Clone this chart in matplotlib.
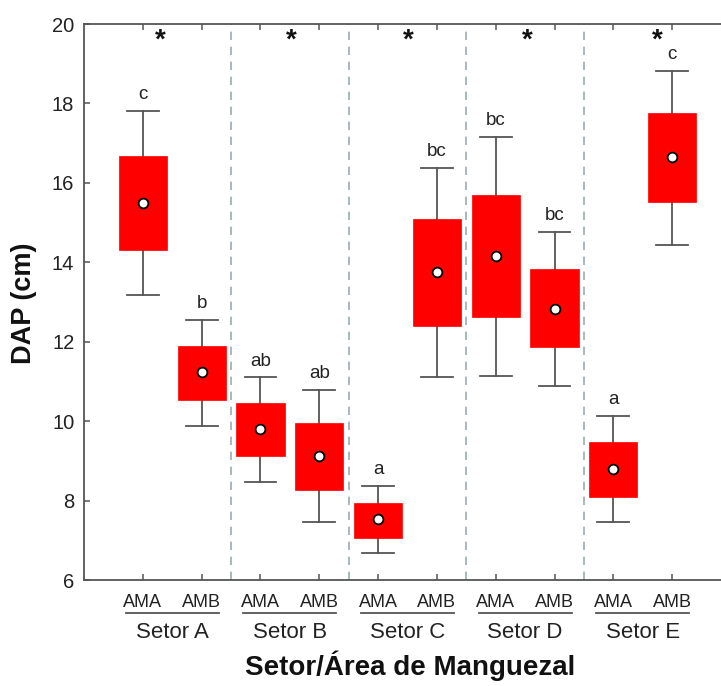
import matplotlib
matplotlib.use("Agg")
import matplotlib.pyplot as plt
import matplotlib.transforms as mtransforms

plt.rcParams['font.family'] = ['Liberation Sans', 'DejaVu Sans']

# ---- data ----
sectors = ["Setor A", "Setor B", "Setor C", "Setor D", "Setor E"]
areas = ["AMA", "AMB"]
whisker_low = [13.18, 9.89, 8.47, 7.47, 6.67, 11.10, 11.14, 10.88, 7.45, 14.43]
box_low     = [14.31, 10.53, 9.13, 8.26, 7.07, 12.40, 12.61, 11.86, 8.10, 15.52]
center      = [15.50, 11.23, 9.79, 9.12, 7.53, 13.75, 14.16, 12.82, 8.79, 16.66]
box_high    = [16.68, 11.90, 10.45, 9.96, 7.95, 15.08, 15.69, 13.82, 9.47, 17.75]
whisker_high= [17.82, 12.55, 11.10, 10.78, 8.37, 16.37, 17.16, 14.77, 10.12, 18.82]
letters     = ["c", "b", "ab", "ab", "a", "bc", "bc", "bc", "a", "c"]
star_pos    = [1.29, 3.52, 5.52, 7.53, 9.74]

positions = list(range(1, len(center) + 1))

fig = plt.figure(figsize=(7.21, 6.86), dpi=100)
ax = fig.add_axes([84 / 721, 1 - 580 / 686, 1 - 84 / 721, (580 - 24) / 686])

stats = []
for i in range(len(center)):
    stats.append(dict(whislo=whisker_low[i], q1=box_low[i], med=center[i],
                      q3=box_high[i], whishi=whisker_high[i], fliers=[]))

gray = '#555555'
ax.bxp(stats, positions=positions, widths=0.82, capwidths=0.54,
       patch_artist=True, showfliers=False, manage_ticks=False,
       boxprops=dict(facecolor='#ff0000', edgecolor='#ff0000', linewidth=0.5),
       whiskerprops=dict(color=gray, linewidth=1.3),
       capprops=dict(color=gray, linewidth=1.3),
       medianprops=dict(linewidth=0))
for b in ax.patches:
    b.set_zorder(3)
for ln in ax.lines:
    ln.set_zorder(2)

ax.plot(positions, center, linestyle='none', marker='o', markersize=7,
        markerfacecolor='white', markeredgecolor='black', markeredgewidth=1.3,
        zorder=5)

# letters above whiskers
for p, wh, lt in zip(positions, whisker_high, letters):
    ax.text(p, wh + 0.2, lt, ha='center', va='bottom', fontsize=13.5, color='#222222')

# asterisks
for sp in star_pos:
    ax.text(sp, 19.58, '*', ha='center', va='center', fontsize=20,
            fontweight='bold', color='#111111')

# separators
for k in range(1, len(sectors)):
    xs = 2 * k + 0.5
    ax.axvline(xs, color='#9aabb1', linewidth=1.2, linestyle=(0, (5, 4)), zorder=1)

ax.set_xlim(0, 10.83)
ax.set_ylim(6, 20)
ax.set_yticks(range(6, 21, 2))
ax.set_xticks(positions)
ax.set_xticklabels(areas * len(sectors), fontsize=13, color='#222222')
ax.tick_params(axis='x', direction='in', top=True, length=4, width=1.1,
               color=gray, pad=10)
ax.tick_params(axis='y', direction='in', length=4, width=1.1, color=gray,
               labelsize=14.5, labelcolor='#222222', pad=7)

for s in ['left', 'top', 'bottom']:
    ax.spines[s].set_color(gray)
    ax.spines[s].set_linewidth(1.3)
ax.spines['right'].set_visible(False)

trans = mtransforms.blended_transform_factory(ax.transData, ax.transAxes)
for g, name in enumerate(sectors):
    c = 2 * g + 1.5
    ax.plot([c - 0.79, c + 0.79], [-0.0594, -0.0594], color=gray, linewidth=1.3,
            transform=trans, clip_on=False)
    ax.text(c, -0.095, name, ha='center', va='center', fontsize=16,
            color='#222222', transform=trans)

fig.text(410 / 721, 1 - 666 / 686, 'Setor/Área de Manguezal', ha='center',
         va='center', fontsize=20, fontweight='bold', color='#111111')
fig.text(24 / 721, 1 - 303 / 686, 'DAP (cm)', ha='center', va='center',
         rotation=90, fontsize=19.5, fontweight='bold', color='#111111')

fig.savefig('out.png', dpi=100)
